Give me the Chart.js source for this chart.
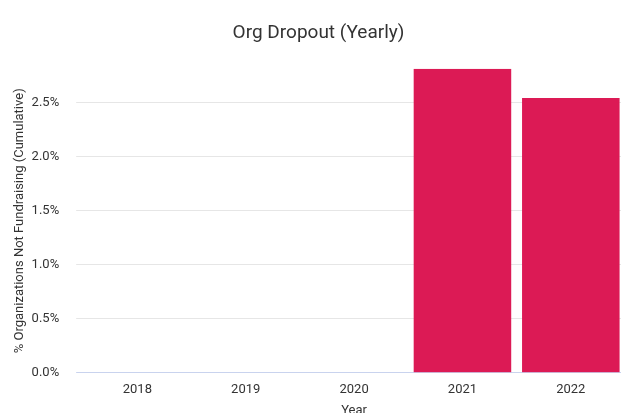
<!DOCTYPE html>
<html>
<head>
<meta charset="utf-8">
<script src="https://cdn.jsdelivr.net/npm/chart.js@4"></script>
<style>
html,body{margin:0;padding:0;overflow:hidden;background:#fff;}
#wrap{width:637px;height:422px;}
</style>
</head>
<body>
<div id="wrap"><canvas id="c" width="637" height="422"></canvas></div>
<script>
const years = ['2018', '2019', '2020', '2021', '2022'];
const dropoutPct = [0, 0, 0, 2.81, 2.54];
const yTicks = [0, 0.5, 1.0, 1.5, 2.0, 2.5];
const chartTitle = 'Org Dropout (Yearly)';
const xTitle = 'Year';
const yTitle = '% Organizations Not Fundraising (Cumulative)';

const yMax = Math.max(...dropoutPct);

new Chart(document.getElementById('c'), {
  type: 'bar',
  data: {
    labels: years,
    datasets: [{
      data: dropoutPct,
      backgroundColor: '#DC1A55',
      borderWidth: 0,
      barPercentage: 0.9,
      categoryPercentage: 1.0
    }]
  },
  options: {
    responsive: false,
    devicePixelRatio: 1,
    animation: false,
    layout: { padding: { top: 12, left: 12, right: 12, bottom: 0 } },
    plugins: {
      legend: { display: false },
      tooltip: { enabled: false },
      title: {
        display: true,
        text: chartTitle,
        color: '#333',
        font: { family: 'Roboto', size: 19, weight: 'normal' },
        padding: { top: 10, bottom: 24 }
      }
    },
    scales: {
      x: {
        grid: { display: false },
        border: { display: false },
        ticks: { color: '#333', font: { family: 'Roboto', size: 13 }, padding: 1 },
        title: { display: true, text: xTitle, color: '#333', font: { family: 'Roboto', size: 13 }, padding: { top: 5, bottom: 3 } }
      },
      y: {
        min: 0,
        max: yMax,
        border: { display: false },
        grid: {
          color: ctx => (ctx.tick && ctx.tick.value === 0) ? '#C9D3EE' : '#E6E6E6',
          lineWidth: 1,
          tickLength: 7
        },
        afterBuildTicks: scale => { scale.ticks = yTicks.map(v => ({ value: v })); },
        ticks: {
          color: '#333',
          font: { family: 'Roboto', size: 13 },
          padding: 17,
          callback: v => Number(v).toFixed(1) + '%'
        },
        title: { display: true, text: yTitle, color: '#333', font: { family: 'Roboto', size: 13 }, padding: { top: 0, bottom: -13 } }
      }
    }
  }
});
</script>
</body>
</html>
